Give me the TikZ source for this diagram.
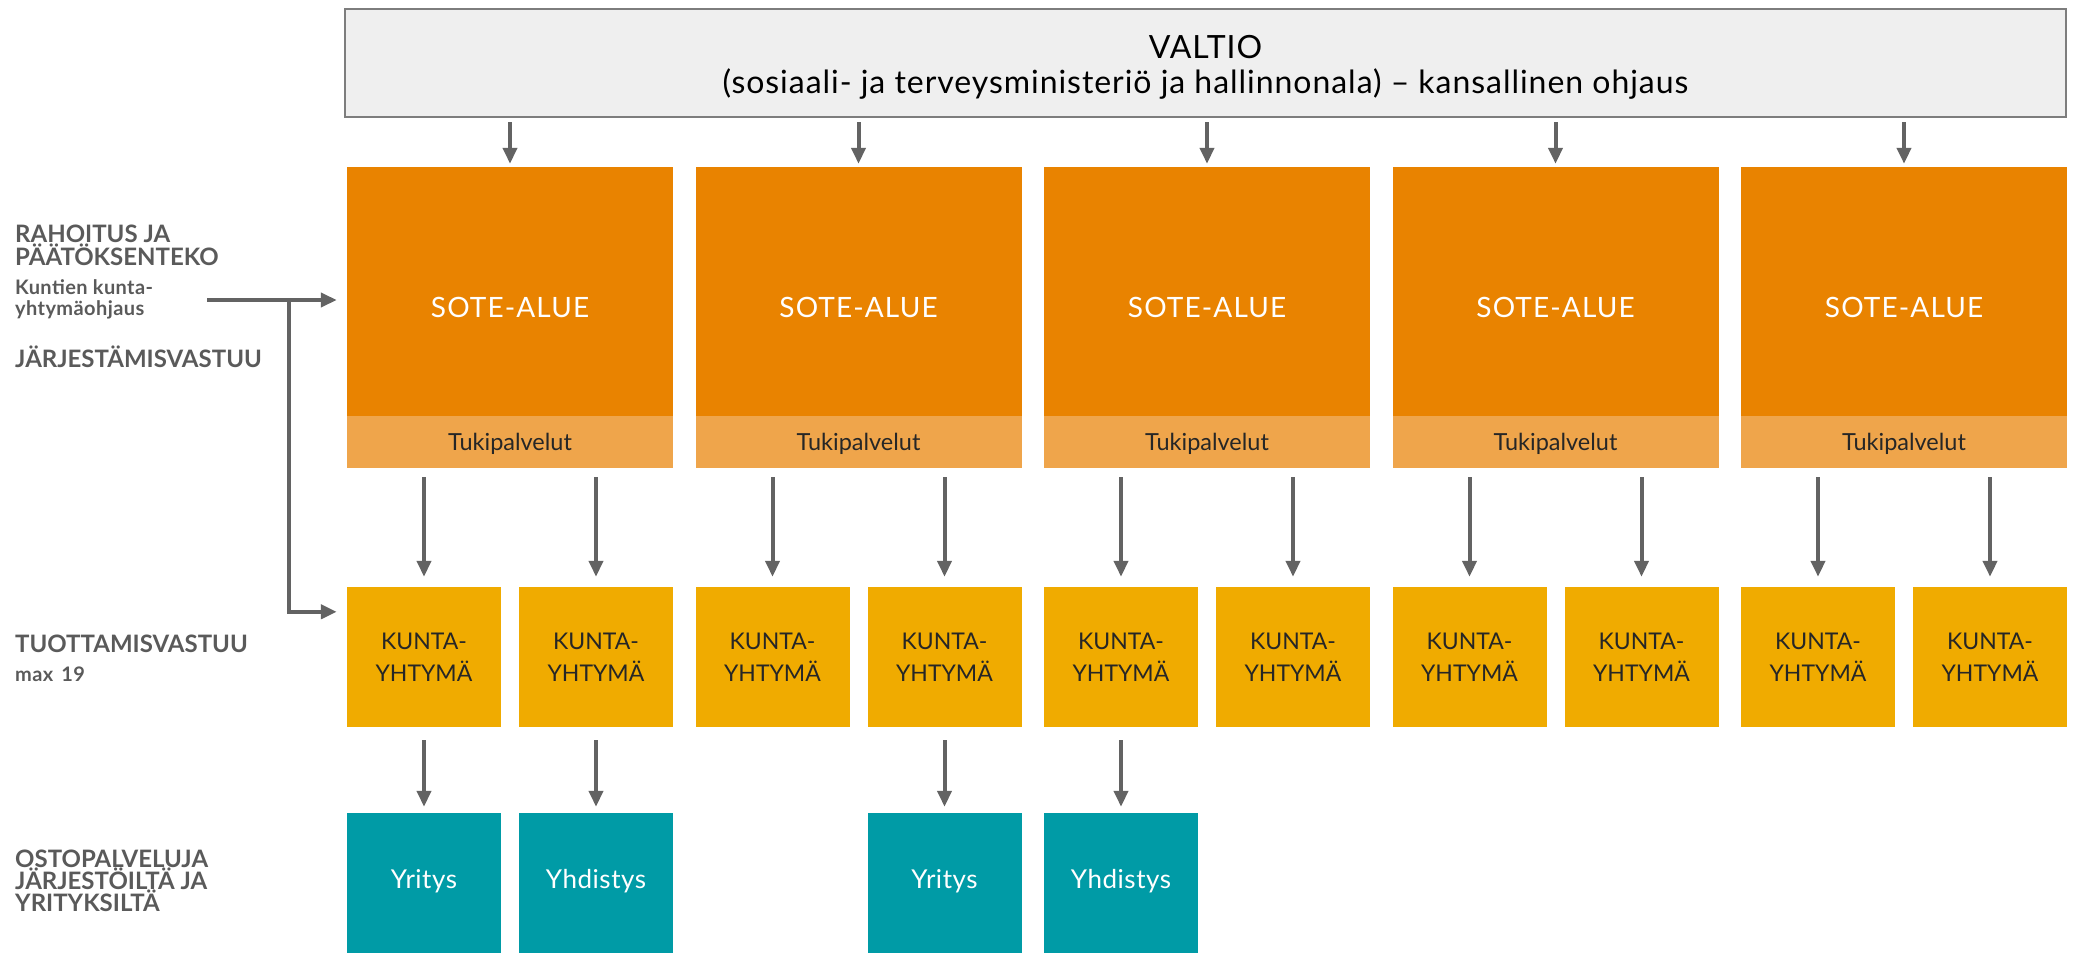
\documentclass[tikz,border=0pt]{standalone}
\usepackage{fontspec}
\setmainfont{Lato}
\usepackage{tikz}
\usetikzlibrary{arrows.meta,calc}

\definecolor{soteorange}{RGB}{233,131,0}
\definecolor{tukiorange}{RGB}{239,165,75}
\definecolor{kyyellow}{RGB}{240,171,0}
\definecolor{ostoteal}{RGB}{0,155,166}
\definecolor{valtiofill}{RGB}{239,239,239}
\definecolor{valtioline}{RGB}{125,125,125}
\definecolor{arrowgray}{RGB}{99,99,99}
\definecolor{labelgray}{RGB}{90,90,90}

\begin{document}
\begin{tikzpicture}[x = 1pt, y = -1pt,
                    >={Triangle[length=16pt, width=14pt]},
                    arr/.style = {->, draw = arrowgray, line width = 4pt},
                    valtiobox/.style = {rectangle, draw = valtioline, line width = 2pt, fill = valtiofill,
                                        minimum width = 1721pt, minimum height = 108pt, align = center,
                                        font = \fontsize{32}{35}\selectfont\addfontfeature{LetterSpace=3}},
                    sote/.style = {rectangle, fill = soteorange, minimum width = 326pt, minimum height = 249pt,
                                   text = white, font = \fontsize{28}{30}\selectfont\addfontfeature{LetterSpace=4},
                                   text height = 51pt, text depth = 0pt},
                    tuki/.style = {rectangle, fill = tukiorange, minimum width = 326pt, minimum height = 52pt,
                                   text = black!85, font = \fontsize{23.5}{26}\selectfont,
                                   text height = 16pt, text depth = 0pt},
                    ky/.style = {rectangle, fill = kyyellow, minimum width = 154pt, minimum height = 140pt,
                                 text = black!85, align = center, font = \fontsize{23}{32}\selectfont},
                    osto/.style = {rectangle, fill = ostoteal, minimum width = 154pt, minimum height = 140pt,
                                   text = white, font = \fontsize{26}{30}\selectfont\addfontfeature{LetterSpace=2},
                                   text height = 15pt, text depth = 5pt},
                    side/.style = {anchor = base west, inner sep = 0pt, align = left, text = labelgray,
                                   font = \bfseries\fontsize{24}{21}\selectfont},
                    sidesmall/.style = {side, font = \bfseries\fontsize{20}{21}\selectfont\addfontfeature{LetterSpace=2}}]
  \useasboundingbox (0, 0) rectangle (2074, 953);

  \node [valtiobox] (valtio) at (1205.5, 63)
    {{\fontsize{32}{35}\selectfont\rule{0pt}{31pt}VALTIO}\\
     (sosiaali- ja terveysministeriö ja hallinnonala) -- kansallinen ohjaus};

  \node [sote] (S1) at (510, 291.5) {SOTE-ALUE};
  \node [sote] (S2) at (858.5, 291.5) {SOTE-ALUE};
  \node [sote] (S3) at (1207, 291.5) {SOTE-ALUE};
  \node [sote] (S4) at (1555.5, 291.5) {SOTE-ALUE};
  \node [sote] (S5) at (1904, 291.5) {SOTE-ALUE};

  \node [tuki] (T1) at (510, 442) {Tukipalvelut};
  \node [tuki] (T2) at (858.5, 442) {Tukipalvelut};
  \node [tuki] (T3) at (1207, 442) {Tukipalvelut};
  \node [tuki] (T4) at (1555.5, 442) {Tukipalvelut};
  \node [tuki] (T5) at (1904, 442) {Tukipalvelut};

  \node [ky] (K11) at (424, 657) {KUNTA-\\YHTYMÄ};
  \node [ky] (K12) at (596, 657) {KUNTA-\\YHTYMÄ};
  \node [ky] (K21) at (772.5, 657) {KUNTA-\\YHTYMÄ};
  \node [ky] (K22) at (944.5, 657) {KUNTA-\\YHTYMÄ};
  \node [ky] (K31) at (1121, 657) {KUNTA-\\YHTYMÄ};
  \node [ky] (K32) at (1293, 657) {KUNTA-\\YHTYMÄ};
  \node [ky] (K41) at (1469.5, 657) {KUNTA-\\YHTYMÄ};
  \node [ky] (K42) at (1641.5, 657) {KUNTA-\\YHTYMÄ};
  \node [ky] (K51) at (1818, 657) {KUNTA-\\YHTYMÄ};
  \node [ky] (K52) at (1990, 657) {KUNTA-\\YHTYMÄ};

  \node [osto] (O11) at (424, 883) {Yritys};
  \node [osto] (O12) at (596, 883) {Yhdistys};
  \node [osto] (O22) at (944.5, 883) {Yritys};
  \node [osto] (O31) at (1121, 883) {Yhdistys};

  % valtio -> sote-alueet
  \draw [arr, shorten <=4pt, shorten >=3pt] (valtio.south -| S1.north) -- (S1.north);
  \draw [arr, shorten <=4pt, shorten >=3pt] (valtio.south -| S2.north) -- (S2.north);
  \draw [arr, shorten <=4pt, shorten >=3pt] (valtio.south -| S3.north) -- (S3.north);
  \draw [arr, shorten <=4pt, shorten >=3pt] (valtio.south -| S4.north) -- (S4.north);
  \draw [arr, shorten <=4pt, shorten >=3pt] (valtio.south -| S5.north) -- (S5.north);

  % tukipalvelut -> kuntayhtymat
  \draw [arr, shorten <=9pt, shorten >=10pt] (T1.south -| K11.north) -- (K11.north);
  \draw [arr, shorten <=9pt, shorten >=10pt] (T1.south -| K12.north) -- (K12.north);
  \draw [arr, shorten <=9pt, shorten >=10pt] (T2.south -| K21.north) -- (K21.north);
  \draw [arr, shorten <=9pt, shorten >=10pt] (T2.south -| K22.north) -- (K22.north);
  \draw [arr, shorten <=9pt, shorten >=10pt] (T3.south -| K31.north) -- (K31.north);
  \draw [arr, shorten <=9pt, shorten >=10pt] (T3.south -| K32.north) -- (K32.north);
  \draw [arr, shorten <=9pt, shorten >=10pt] (T4.south -| K41.north) -- (K41.north);
  \draw [arr, shorten <=9pt, shorten >=10pt] (T4.south -| K42.north) -- (K42.north);
  \draw [arr, shorten <=9pt, shorten >=10pt] (T5.south -| K51.north) -- (K51.north);
  \draw [arr, shorten <=9pt, shorten >=10pt] (T5.south -| K52.north) -- (K52.north);

  % kuntayhtymat -> ostopalvelut
  \draw [arr, shorten <=13pt, shorten >=6pt] (K11) -- (O11);
  \draw [arr, shorten <=13pt, shorten >=6pt] (K12) -- (O12);
  \draw [arr, shorten <=13pt, shorten >=6pt] (K22) -- (O22);
  \draw [arr, shorten <=13pt, shorten >=6pt] (K31) -- (O31);

  % vasen reuna (base = viimeisen rivin peruslinja)
  \node [side] (rahoitus) at (15, 265) {RAHOITUS JA\\PÄÄTÖKSENTEKO};
  \node [sidesmall] (kuntien) at (15, 315) {Kuntien kunta-\\yhtymäohjaus};
  \node [side] (jarj) at (15, 367) {JÄRJESTÄMISVASTUU};
  \node [side] (tuot) at (15, 652) {TUOTTAMISVASTUU};
  \node [sidesmall] (max) at (15, 681) {max\hspace{8pt}19};
  \node [side, font = \bfseries\fontsize{24}{22}\selectfont] (osto) at (15, 911)
    {OSTOPALVELUJA\\JÄRJESTÖILTÄ JA\\YRITYKSILTÄ};

  \coordinate (ohj) at (207, 300);
  \coordinate (haara) at (289, 300);
  \draw [arr, shorten >=10pt] (ohj) -- (S1.west |- ohj);
  \draw [arr, shorten >=10pt] (haara) |- ($(K11.north west) + (0, 25)$);
\end{tikzpicture}
\end{document}
